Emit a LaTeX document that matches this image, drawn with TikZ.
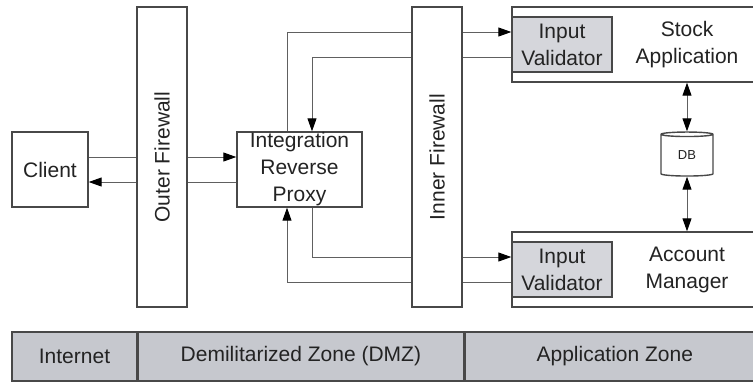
\documentclass[tikz,border=0pt]{standalone}
\usepackage{fontspec}
\setmainfont{Liberation Sans}
\usetikzlibrary{shapes.geometric, arrows.meta, positioning, calc}
\definecolor{zonegray}{RGB}{198,200,206}
\definecolor{checkgray}{RGB}{213,214,219}
\definecolor{edgegray}{RGB}{72,72,72}
\definecolor{wiregray}{RGB}{96,96,96}
\definecolor{textgray}{RGB}{35,35,35}

\begin{document}
\begin{tikzpicture}[x=0.5pt, y=-0.5pt,
    box/.style={draw=edgegray, line width=0.7pt, fill=white, inner sep=0pt, align=center,
                text=textgray, font=\fontsize{10.5}{13.5}\selectfont},
    wall/.style={box, rotate=90, minimum width=150pt, minimum height=25pt},
    checker/.style={box, fill=checkgray, minimum width=50pt, minimum height=27.5pt},
    zone/.style={box, fill=zonegray, minimum height=24.5pt},
    flow/.style={draw=wiregray, line width=0.5pt, -{Triangle[length=6.5pt, width=4.5pt, black]}},
    link/.style={draw=wiregray, line width=0.5pt, {Triangle[length=6.5pt, width=4.5pt, black]}-{Triangle[length=6.5pt, width=4.5pt, black]}}
]
    \useasboundingbox (0,0) rectangle (753,382);
    \clip (0,0) rectangle (753,382);

    \node[box, minimum width=38pt, minimum height=37.5pt] (client) at (50,169.5) {Client};
    \node[box, minimum width=62.5pt, minimum height=37.5pt] (proxy) at (299.5,169.5) {Integration\\Reverse\\Proxy};

    \node[box, minimum width=175pt, minimum height=37.5pt] (stock) at (687,44.5) {Stock\\Application};
    \node[checker] (stockcheck) at (562,44.5) {Input\\Validator};
    \node[box, minimum width=175pt, minimum height=37.5pt] (account) at (687,269.5) {Account\\Manager};
    \node[checker] (accountcheck) at (562,269.5) {Input\\Validator};

    \node[box, cylinder, shape border rotate=90, aspect=0.25, minimum height=22pt, minimum width=26pt,
          font=\fontsize{6.5}{8}\selectfont] (db) at (687,155.5) {DB};

    % traffic through the two firewalls
    \draw[flow] ([yshift=6.25pt]client.east) -- ([yshift=6.25pt]proxy.west);
    \draw[flow] ([yshift=-6.25pt]proxy.west) -- ([yshift=-6.25pt]client.east);
    \draw[flow] ([xshift=-6.25pt]proxy.north) |- ([yshift=6.25pt]stockcheck.west);
    \draw[flow] ([yshift=-6.25pt]stockcheck.west) -| ([xshift=6.25pt]proxy.north);
    \draw[flow] ([xshift=6.25pt]proxy.south) |- ([yshift=6.25pt]accountcheck.west);
    \draw[flow] ([yshift=-6.25pt]accountcheck.west) -| ([xshift=-6.25pt]proxy.south);

    \draw[link] (db.north |- stock.south) -- (db.north);
    \draw[link] (db.south) -- (db.south |- account.north);

    \node[wall] (outer) at (162,157) {Outer Firewall};
    \node[wall] (inner) at (437,157) {Inner Firewall};

    \node[zone, minimum width=62.5pt] (internet) at (74.5,356.5) {Internet};
    \node[zone, minimum width=162.5pt, right=0pt of internet] (dmz) {Demilitarized Zone (DMZ)};
    \node[zone, minimum width=150pt, right=0pt of dmz] (appzone) {Application Zone};
\end{tikzpicture}
\end{document}
